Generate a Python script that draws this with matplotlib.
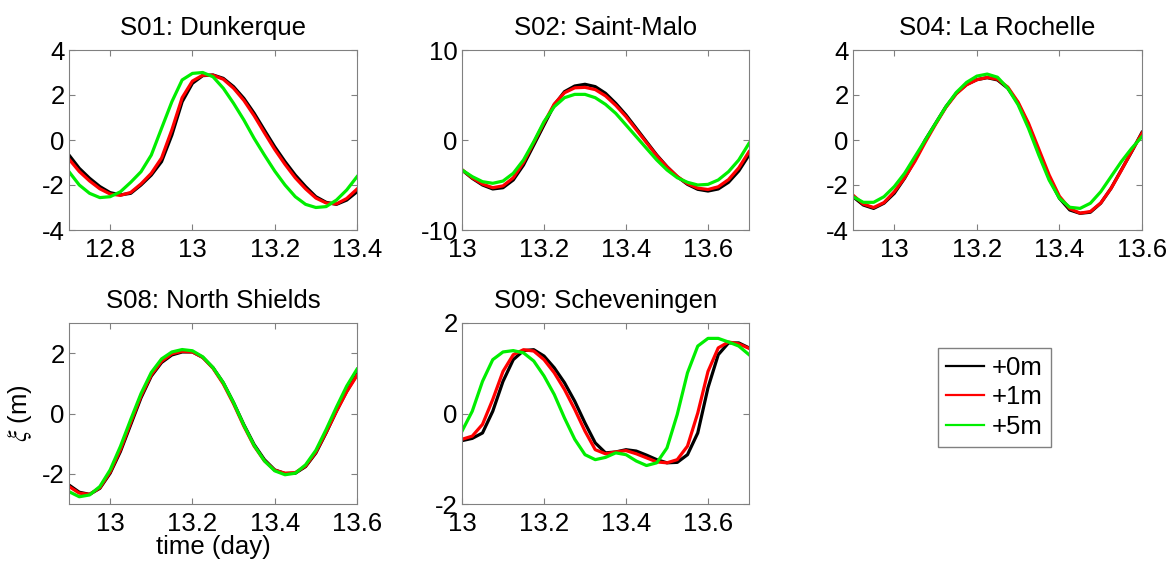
import numpy as np
import matplotlib
matplotlib.use('Agg')
import matplotlib.pyplot as plt
from matplotlib.ticker import FormatStrFormatter

plt.rcParams['font.family'] = ['Liberation Sans', 'DejaVu Sans']
plt.rcParams['axes.unicode_minus'] = False
plt.rcParams['mathtext.fontset'] = 'stix'

labels = ['+0m', '+1m', '+5m']
colors = ['black', '#ff0000', '#00ee00']

# S01: Dunkerque
t01 = np.linspace(12.7, 13.4, 29)
s01_0 = [-0.67, -1.26, -1.70, -2.07, -2.34, -2.44, -2.37, -2.00, -1.56, -0.96, 0.22, 1.70, 2.52, 2.86, 2.89,
         2.74, 2.37, 1.85, 1.19, 0.44, -0.30, -0.96, -1.56, -2.07, -2.52, -2.77, -2.86, -2.67, -2.30]
s01_1 = [-0.85, -1.40, -1.82, -2.17, -2.40, -2.46, -2.33, -1.95, -1.48, -0.80, 0.45, 1.88, 2.62, 2.88, 2.88,
         2.70, 2.30, 1.76, 1.08, 0.32, -0.42, -1.08, -1.68, -2.17, -2.58, -2.80, -2.84, -2.60, -2.18]
s01_5 = [-1.41, -2.00, -2.37, -2.56, -2.52, -2.30, -1.88, -1.41, -0.67, 0.52, 1.70, 2.67, 2.96, 3.00, 2.81,
         2.30, 1.63, 0.89, 0.07, -0.67, -1.38, -2.00, -2.52, -2.86, -3.00, -2.96, -2.67, -2.22, -1.63]

# S02: Saint-Malo
t02 = np.linspace(13.0, 13.7, 29)
s02_0 = [-3.33, -4.26, -5.00, -5.44, -5.30, -4.44, -2.78, -0.56, 1.67, 3.89, 5.37, 6.00, 6.19, 5.93, 5.19,
         4.07, 2.78, 1.30, -0.19, -1.67, -2.96, -4.07, -4.93, -5.48, -5.67, -5.44, -4.70, -3.44, -1.67]
s02_1 = [-3.30, -4.20, -4.90, -5.30, -5.10, -4.20, -2.50, -0.30, 1.90, 4.00, 5.25, 5.80, 5.85, 5.60, 4.90,
         3.85, 2.60, 1.15, -0.30, -1.75, -3.00, -4.05, -4.85, -5.35, -5.50, -5.20, -4.40, -3.10, -1.30]
s02_5 = [-3.33, -4.07, -4.63, -4.81, -4.56, -3.70, -2.22, -0.19, 2.04, 3.70, 4.70, 5.07, 5.07, 4.70, 3.96,
         2.96, 1.67, 0.37, -0.93, -2.22, -3.33, -4.19, -4.70, -5.00, -4.93, -4.44, -3.52, -2.22, -0.37]

# S04: La Rochelle
t04 = np.linspace(12.9, 13.6, 29)
s04_0 = [-2.52, -2.89, -3.04, -2.81, -2.37, -1.70, -0.89, 0.00, 0.74, 1.48, 2.07, 2.47, 2.68, 2.77, 2.67,
         2.30, 1.63, 0.67, -0.52, -1.70, -2.59, -3.11, -3.26, -3.21, -2.81, -2.15, -1.33, -0.52, 0.34]
s04_1 = [-2.45, -2.85, -3.00, -2.78, -2.30, -1.68, -0.95, -0.10, 0.70, 1.45, 2.05, 2.45, 2.68, 2.78, 2.70,
         2.35, 1.68, 0.75, -0.40, -1.55, -2.50, -3.05, -3.25, -3.18, -2.80, -2.15, -1.35, -0.50, 0.30]
s04_5 = [-2.52, -2.77, -2.77, -2.52, -2.07, -1.48, -0.74, 0.00, 0.74, 1.48, 2.11, 2.56, 2.84, 2.93, 2.79,
         2.30, 1.56, 0.52, -0.67, -1.78, -2.59, -2.99, -3.04, -2.81, -2.30, -1.63, -0.96, -0.37, 0.15]

# S08: North Shields
t08 = np.linspace(12.9, 13.6, 29)
s08_0 = [-2.37, -2.61, -2.68, -2.48, -1.98, -1.26, -0.37, 0.52, 1.24, 1.69, 1.94, 2.04, 2.04, 1.86, 1.52,
         1.02, 0.36, -0.37, -1.03, -1.53, -1.87, -1.99, -1.98, -1.76, -1.31, -0.64, 0.08, 0.74, 1.30]
s08_1 = [-2.42, -2.64, -2.68, -2.46, -1.94, -1.20, -0.30, 0.58, 1.28, 1.73, 1.98, 2.06, 2.04, 1.86, 1.50,
         0.98, 0.32, -0.42, -1.08, -1.57, -1.88, -1.98, -1.96, -1.74, -1.28, -0.62, 0.07, 0.72, 1.26]
s08_5 = [-2.59, -2.76, -2.70, -2.42, -1.87, -1.09, -0.20, 0.66, 1.36, 1.81, 2.04, 2.12, 2.08, 1.88, 1.52,
         1.02, 0.36, -0.39, -1.06, -1.57, -1.90, -2.03, -1.98, -1.70, -1.22, -0.53, 0.21, 0.91, 1.47]

# S09: Scheveningen
t09 = np.linspace(13.0, 13.7, 29)
s09_0 = [-0.60, -0.55, -0.43, 0.05, 0.71, 1.19, 1.39, 1.41, 1.27, 1.01, 0.68, 0.27, -0.21, -0.65, -0.87,
         -0.85, -0.80, -0.83, -0.92, -1.02, -1.09, -1.08, -0.91, -0.43, 0.57, 1.30, 1.56, 1.56, 1.45]
s09_1 = [-0.57, -0.50, -0.24, 0.31, 0.93, 1.30, 1.41, 1.38, 1.19, 0.90, 0.53, 0.09, -0.39, -0.80, -0.89,
         -0.85, -0.82, -0.89, -0.98, -1.07, -1.09, -1.02, -0.72, 0.01, 0.93, 1.45, 1.58, 1.54, 1.44]
s09_5 = [-0.39, 0.05, 0.71, 1.19, 1.36, 1.39, 1.34, 1.16, 0.83, 0.42, -0.10, -0.57, -0.91, -1.02, -0.97,
         -0.87, -0.91, -1.05, -1.15, -1.09, -0.76, -0.02, 0.90, 1.49, 1.66, 1.66, 1.58, 1.49, 1.30]

panels = [
    ('S01: Dunkerque', t01, [s01_0, s01_1, s01_5], (12.7, 13.4), [12.8, 13, 13.2, 13.4], (-4, 4), [-4, -2, 0, 2, 4]),
    ('S02: Saint-Malo', t02, [s02_0, s02_1, s02_5], (13.0, 13.7), [13, 13.2, 13.4, 13.6], (-10, 10), [-10, 0, 10]),
    ('S04: La Rochelle', t04, [s04_0, s04_1, s04_5], (12.9, 13.6), [13, 13.2, 13.4, 13.6], (-4, 4), [-4, -2, 0, 2, 4]),
    ('S08: North Shields', t08, [s08_0, s08_1, s08_5], (12.9, 13.6), [13, 13.2, 13.4, 13.6], (-3, 3), [-2, 0, 2]),
    ('S09: Scheveningen', t09, [s09_0, s09_1, s09_5], (13.0, 13.7), [13, 13.2, 13.4, 13.6], (-2, 2), [-2, 0, 2]),
]

W, H = 1172, 566
boxes = [(69, 50, 357, 230), (462, 50, 749, 230), (853, 50, 1142, 230),
         (69, 323, 357, 504), (462, 323, 749, 504)]

fig = plt.figure(figsize=(W / 100, H / 100), dpi=100)
fs = 18.5
axes = []
for (title, t, series, xl, xt, yl, yt), (x0, y0, x1, y1) in zip(panels, boxes):
    ax = fig.add_axes([x0 / W, 1 - y1 / H, (x1 - x0) / W, (y1 - y0) / H])
    for s, c, lab in zip(series, colors, labels):
        ax.plot(t, s, color=c, lw=2.3, label=lab)
    ax.set_xlim(xl)
    ax.set_ylim(yl)
    ax.set_xticks(xt)
    ax.set_yticks(yt)
    ax.xaxis.set_major_formatter(FormatStrFormatter('%g'))
    ax.set_title(title, fontsize=fs, pad=11)
    ax.tick_params(direction='in', top=True, right=True, length=4, color='#808080', labelsize=fs)
    ax.tick_params(axis='x', pad=6)
    ax.tick_params(axis='y', pad=3)
    for sp in ax.spines.values():
        sp.set_color('#808080')
    axes.append(ax)

axes[3].set_xlabel('time (day)', fontsize=fs, labelpad=-1)
axes[3].set_ylabel(r'$\xi$ (m)', fontsize=fs, labelpad=6)

handles, labs = axes[0].get_legend_handles_labels()
leg = fig.legend(handles, labs, loc='upper left', bbox_to_anchor=(938 / W, 1 - 348 / H),
                 borderaxespad=0, fontsize=fs, fancybox=False, framealpha=1, edgecolor='#808080',
                 handlelength=1.5, handletextpad=0.3, labelspacing=0.22, borderpad=0.3)
for ln in leg.get_lines():
    ln.set_linewidth(1.6)

fig.savefig('out.png', dpi=100)
